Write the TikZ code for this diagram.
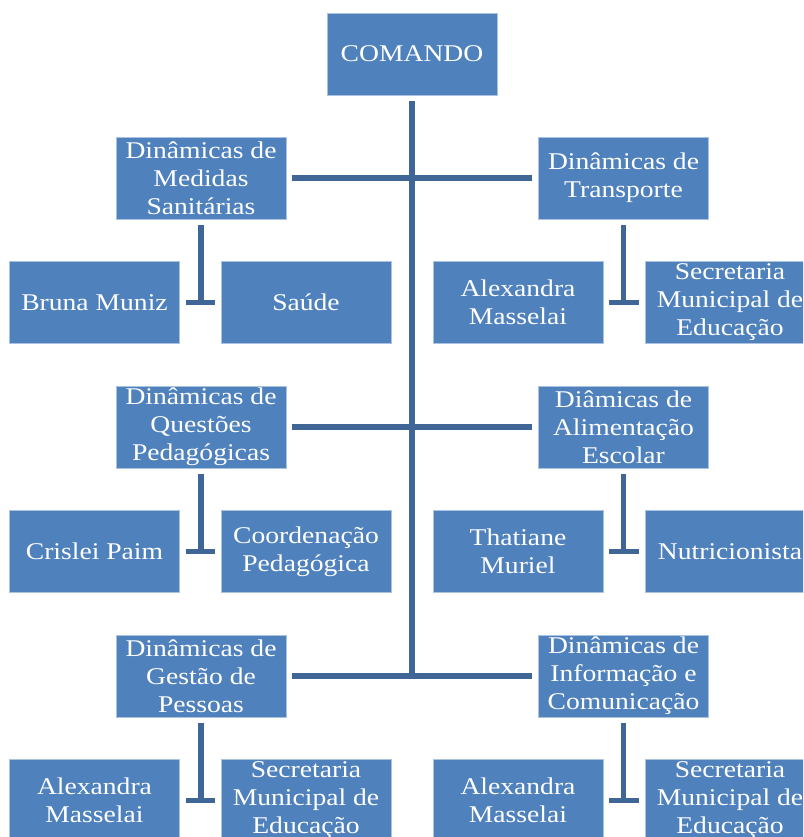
\documentclass[tikz,border=0pt]{standalone}
\usepackage{fontspec}
\setmainfont{Liberation Serif}[FakeStretch=1.15]
\definecolor{boxfill}{RGB}{79,129,189}
\definecolor{boxedge}{RGB}{170,195,225}
\definecolor{linkcol}{RGB}{64,102,152}
\begin{document}
\begin{tikzpicture}[x=1pt,y=-1pt,
  unit/.style={rectangle, fill=boxfill, draw=boxedge, line width=0.8pt,
    minimum width=170pt, minimum height=82pt, inner sep=0pt,
    text=white, align=center, font=\fontsize{24}{28}\selectfont},
  link/.style={draw=linkcol, line width=5.6pt, shorten <=6pt, shorten >=6pt},
  trunk/.style={draw=linkcol, line width=5.6pt, shorten <=6pt}]
\useasboundingbox (0,0) rectangle (803,837);
\clip (0,0) rectangle (803,837);
% top
\node[unit] (cmd) at (412,54) {COMANDO};
% row 1
\node[unit] (ms) at (201,178) {Dinâmicas de\\Medidas\\Sanitárias};
\node[unit] (tr) at (623.5,178) {Dinâmicas de\\Transporte};
\node[unit] (bm) at (94.5,302.5) {Bruna Muniz};
\node[unit] (sa) at (306,302.5) {Saúde};
\node[unit] (am1) at (518,302.5) {Alexandra\\Masselai};
\node[unit] (sme1) at (730,302.5) {Secretaria\\Municipal de\\Educação};
% row 2
\node[unit] (qp) at (201,427) {Dinâmicas de\\Questões\\Pedagógicas};
\node[unit] (ae) at (623.5,427) {Diâmicas de\\Alimentação\\Escolar};
\node[unit] (cp) at (94.5,551.5) {Crislei Paim};
\node[unit] (coord) at (306,551.5) {Coordenação\\Pedagógica};
\node[unit] (tm) at (518,551.5) {Thatiane\\Muriel};
\node[unit] (nut) at (730,551.5) {Nutricionista};
% row 3
\node[unit] (gp) at (201,676) {Dinâmicas de\\Gestão de\\Pessoas};
\node[unit] (ic) at (623.5,676) {Dinâmicas de\\Informação e\\Comunicação};
\node[unit] (am2) at (94.5,800.5) {Alexandra\\Masselai};
\node[unit] (sme2) at (306,800.5) {Secretaria\\Municipal de\\Educação};
\node[unit] (am3) at (518,800.5) {Alexandra\\Masselai};
\node[unit] (sme3) at (730,800.5) {Secretaria\\Municipal de\\Educação};
% trunk
\coordinate (tend) at (412,676);
\draw[trunk] (cmd.south) -- (tend);
% row connectors
\draw[link] (ms.east) -- (tr.west);
\draw[link] (qp.east) -- (ae.west);
\draw[link] (gp.east) -- (ic.west);
% sub connectors
\foreach \p/\l/\r in {ms/bm/sa, tr/am1/sme1, qp/cp/coord, ae/tm/nut, gp/am2/sme2, ic/am3/sme3}{
  \draw[trunk] (\p.south) -- (\p.south |- \l.east);
  \draw[link] (\l.east) -- (\r.west);
}
\end{tikzpicture}
\end{document}
